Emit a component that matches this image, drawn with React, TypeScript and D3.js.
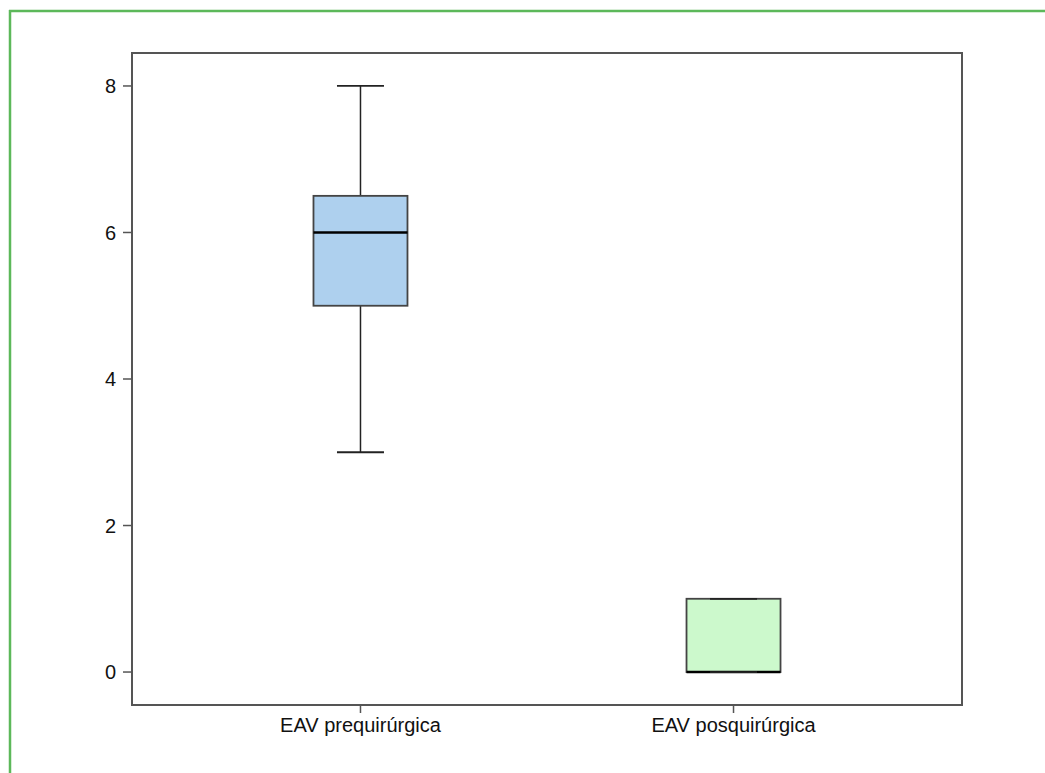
import { useEffect, useRef } from "react";
import * as d3 from "d3";

const categories = ["EAV prequirúrgica", "EAV posquirúrgica"];
const mins = [3, 0];
const q1s = [5, 0];
const medians = [6, 0];
const q3s = [6.5, 1];
const maxs = [8, 1];
const fills = ["#aed0ee", "#ccf9cc"];
const yTicks = [0, 2, 4, 6, 8];

export default function App() {
  const svgRef = useRef<SVGSVGElement>(null);

  useEffect(() => {
    if (!svgRef.current) return;
    const svg = d3.select(svgRef.current);
    svg.selectAll("*").remove();

    const width = 1045;
    const height = 773;
    const left = 132;
    const right = 962;
    const top = 53;
    const bottom = 705;

    // outer green frame (left and top only)
    svg.append("line").attr("x1", 10).attr("x2", 10).attr("y1", 10).attr("y2", height)
      .attr("stroke", "#5cb85a").attr("stroke-width", 2.5);
    svg.append("line").attr("x1", 9).attr("x2", width).attr("y1", 11).attr("y2", 11)
      .attr("stroke", "#5cb85a").attr("stroke-width", 2.5);

    const y = d3.scaleLinear().domain([-0.45, 8.45]).range([bottom, top]);
    const x = d3.scalePoint<string>().domain(categories).range([left, right]).padding(0.6125);
    const boxW = 94;

    const font = "'Liberation Sans', Arial, Helvetica, sans-serif";

    // y axis ticks
    const yg = svg.append("g");
    yTicks.forEach((t) => {
      yg.append("line").attr("x1", left - 9).attr("x2", left).attr("y1", y(t)).attr("y2", y(t))
        .attr("stroke", "#555").attr("stroke-width", 1.5);
      yg.append("text").attr("x", left - 16).attr("y", y(t)).attr("dy", "0.36em")
        .attr("text-anchor", "end").attr("font-family", font).attr("font-size", 20)
        .attr("fill", "#111").text(t);
    });

    // x axis ticks
    categories.forEach((c) => {
      const cx = x(c)!;
      svg.append("line").attr("x1", cx).attr("x2", cx).attr("y1", bottom).attr("y2", bottom + 8)
        .attr("stroke", "#555").attr("stroke-width", 1.5);
      svg.append("text").attr("x", cx).attr("y", bottom + 27)
        .attr("text-anchor", "middle").attr("font-family", font).attr("font-size", 20)
        .attr("fill", "#111").text(c);
    });

    // boxes
    categories.forEach((c, i) => {
      const cx = x(c)!;
      const g = svg.append("g");
      // whiskers
      g.append("line").attr("x1", cx).attr("x2", cx).attr("y1", y(maxs[i])).attr("y2", y(q3s[i]))
        .attr("stroke", "#222").attr("stroke-width", 1.5);
      g.append("line").attr("x1", cx).attr("x2", cx).attr("y1", y(q1s[i])).attr("y2", y(mins[i]))
        .attr("stroke", "#222").attr("stroke-width", 1.5);
      g.append("rect").attr("x", cx - boxW / 2).attr("y", y(q3s[i]))
        .attr("width", boxW).attr("height", y(q1s[i]) - y(q3s[i]))
        .attr("fill", fills[i]).attr("stroke", "#444").attr("stroke-width", 1.8);
      g.append("line").attr("x1", cx - boxW / 2).attr("x2", cx + boxW / 2)
        .attr("y1", y(medians[i])).attr("y2", y(medians[i]))
        .attr("stroke", "#000").attr("stroke-width", 2.5);
      [mins[i], maxs[i]].forEach((v) => {
        g.append("line").attr("x1", cx - boxW / 4).attr("x2", cx + boxW / 4)
          .attr("y1", y(v)).attr("y2", y(v))
          .attr("stroke", "#222").attr("stroke-width", 1.8);
      });
    });

    // plot frame
    svg.append("rect").attr("x", left).attr("y", top).attr("width", right - left)
      .attr("height", bottom - top).attr("fill", "none").attr("stroke", "#555").attr("stroke-width", 2);
  }, []);

  return (
    <svg
      ref={svgRef}
      width={1045}
      height={773}
      style={{ position: "absolute", left: 0, top: 0, background: "#fff" }}
    />
  );
}
